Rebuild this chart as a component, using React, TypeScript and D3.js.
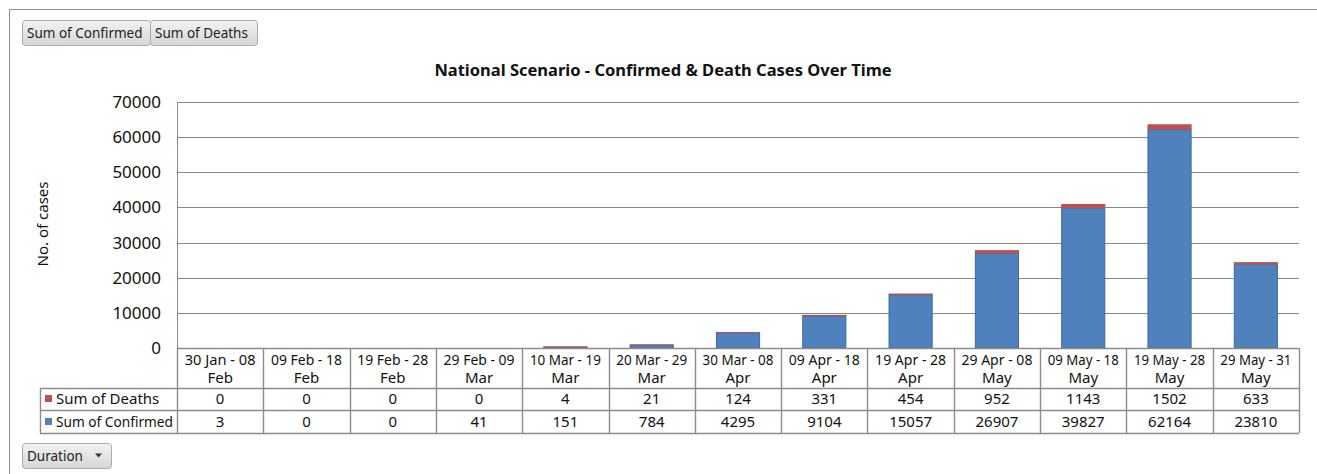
import React from "react";
import * as d3 from "d3";

const categories: string[][] = [
  ["30 Jan - 08", "Feb"],
  ["09 Feb - 18", "Feb"],
  ["19 Feb - 28", "Feb"],
  ["29 Feb - 09", "Mar"],
  ["10 Mar - 19", "Mar"],
  ["20 Mar - 29", "Mar"],
  ["30 Mar - 08", "Apr"],
  ["09 Apr - 18", "Apr"],
  ["19 Apr - 28", "Apr"],
  ["29 Apr - 08", "May"],
  ["09 May - 18", "May"],
  ["19 May - 28", "May"],
  ["29 May - 31", "May"],
];
const confirmed = [3, 0, 0, 41, 151, 784, 4295, 9104, 15057, 26907, 39827, 62164, 23810];
const deaths = [0, 0, 0, 0, 4, 21, 124, 331, 454, 952, 1143, 1502, 633];
const yTicks = [0, 10000, 20000, 30000, 40000, 50000, 60000, 70000];

const FONT = "'Noto Sans', 'Open Sans', sans-serif";
const BLUE = "#4F81BD";
const BLUE_EDGE = "#3B6BA6";
const RED = "#C0504D";

function Button({ x, y, w, h, label, arrow }: { x: number; y: number; w: number; h: number; label: string; arrow?: boolean }) {
  return (
    <g>
      <rect x={x + 0.5} y={y + 0.5} width={w} height={h} rx={3} fill="url(#btnGrad)" stroke="#ABABAB" />
      <text x={x + 5} y={y + h / 2 + 5} fontSize={13.5} fontFamily={FONT} fill="#222">
        {label}
      </text>
      {arrow && <path d={`M${x + w - 16},${y + h / 2 - 2} l7,0 l-3.5,4 z`} fill="#333" />}
    </g>
  );
}

export default function App() {
  const W = 1317;
  const H = 474;
  const left = 177;
  const right = 1299;
  const top = 102;
  const bottom = 348;

  const x = d3.scaleBand<number>().domain(d3.range(categories.length)).range([left, right]).paddingInner(0).paddingOuter(0);
  const y = d3.scaleLinear().domain([0, 70000]).range([bottom, top]);
  const bw = x.bandwidth();
  const barW = bw * 0.5;

  const rowLabelX = 40;
  const headerBottom = 388;
  const row1Bottom = 410;
  const row2Bottom = 433;

  return (
    <svg width={W} height={H} style={{ position: "absolute", left: 0, top: 0 }}>
      <defs>
        <linearGradient id="btnGrad" x1="0" y1="0" x2="0" y2="1">
          <stop offset="0" stopColor="#F2F2F2" />
          <stop offset="1" stopColor="#D6D6D6" />
        </linearGradient>
      </defs>
      <rect x={0} y={0} width={W} height={H} fill="#fff" />
      <path d={`M9.5,${H} L9.5,9.5 L${W},9.5`} fill="none" stroke="#8C8C8C" strokeWidth={1} />

      <Button x={22} y={20} w={128} h={25} label="Sum of Confirmed" />
      <Button x={150} y={20} w={107} h={25} label="Sum of Deaths" />

      <text x={663} y={76} textAnchor="middle" fontSize={16.5} fontWeight="bold" fontFamily={FONT} fill="#111">
        National Scenario - Confirmed &amp; Death Cases Over Time
      </text>

      {yTicks.map((t) => (
        <g key={t}>
          {t > 0 && (
            <line x1={left} x2={right} y1={Math.round(y(t)) + 0.5} y2={Math.round(y(t)) + 0.5} stroke="#888" strokeWidth={1} />
          )}
          <text x={161} y={y(t) + 6} textAnchor="end" fontSize={17} fontFamily={FONT} fill="#111">
            {t}
          </text>
        </g>
      ))}
      <line x1={left + 0.5} x2={left + 0.5} y1={top} y2={bottom} stroke="#888" />

      <text transform={`translate(48,224) rotate(-90)`} textAnchor="middle" fontSize={15} fontFamily={FONT} fill="#111">
        No. of cases
      </text>

      {categories.map((_, i) => {
        const cx = (x(i) as number) + bw / 2;
        const c = confirmed[i];
        const d = deaths[i];
        const yc = y(c);
        const yd = y(c + d);
        const redH = Math.max(yc - yd, 1);
        return (
          <g key={i}>
            {c > 100 && (
              <rect x={cx - barW / 2} y={Math.min(yc, bottom - 1)} width={barW} height={Math.max(bottom - yc, 1)} fill={BLUE} stroke={BLUE_EDGE} strokeWidth={1} />
            )}
            {d > 0 && <rect x={cx - barW / 2 - 0.5} y={yc - redH} width={barW + 1} height={redH} fill={RED} />}
          </g>
        );
      })}

      <g stroke="#8C8C8C" strokeWidth={1.4} fill="none">
        <line x1={left} x2={right} y1={bottom + 0.5} y2={bottom + 0.5} />
        <line x1={rowLabelX} x2={right} y1={headerBottom + 0.5} y2={headerBottom + 0.5} />
        <line x1={rowLabelX} x2={right} y1={row1Bottom + 0.5} y2={row1Bottom + 0.5} />
        <line x1={rowLabelX} x2={right} y1={row2Bottom + 0.5} y2={row2Bottom + 0.5} />
        <line x1={rowLabelX + 0.5} x2={rowLabelX + 0.5} y1={headerBottom} y2={row2Bottom} />
        {d3.range(categories.length + 1).map((i) => {
          const xx = i < categories.length ? (x(i) as number) : right;
          return <line key={i} x1={Math.round(xx) + 0.5} x2={Math.round(xx) + 0.5} y1={bottom} y2={row2Bottom} />;
        })}
      </g>

      {categories.map((lines, i) => {
        const cx = (x(i) as number) + bw / 2;
        return (
          <g key={i} fontFamily={FONT} fill="#111" textAnchor="middle">
            <text x={cx} y={bottom + 17} fontSize={14.5} textLength={71} lengthAdjust="spacingAndGlyphs">{lines[0]}</text>
            <text x={cx} y={bottom + 35} fontSize={15}>{lines[1]}</text>
            <text x={cx} y={headerBottom + 16} fontSize={15}>{deaths[i]}</text>
            <text x={cx} y={row1Bottom + 17} fontSize={15}>{confirmed[i]}</text>
          </g>
        );
      })}

      <rect x={45} y={395} width={7} height={7} fill={RED} />
      <text x={56} y={404} fontSize={15} fontFamily={FONT} fill="#111">Sum of Deaths</text>
      <rect x={45} y={418} width={7} height={7} fill={BLUE} />
      <text x={56} y={427} fontSize={15} fontFamily={FONT} fill="#111" textLength={117} lengthAdjust="spacingAndGlyphs">Sum of Confirmed</text>

      <Button x={22} y={443} w={89} h={25} label="Duration" arrow />
    </svg>
  );
}
